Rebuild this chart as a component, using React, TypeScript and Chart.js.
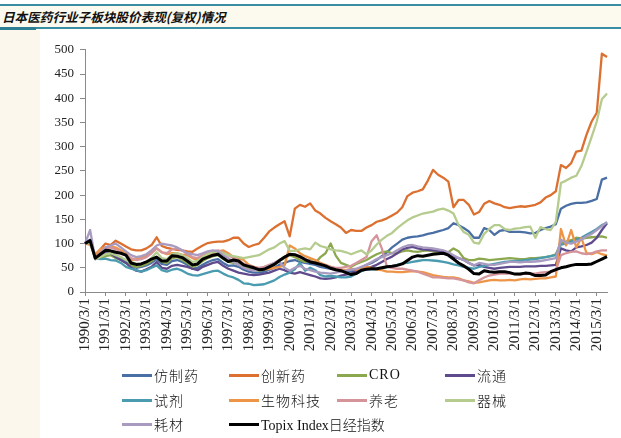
import React, { useEffect, useRef } from "react";
import { Chart, registerables } from "chart.js";
Chart.register(...registerables);

const years = [1990, 1991, 1992, 1993, 1994, 1995, 1996, 1997, 1998, 1999, 2000, 2001, 2002, 2003, 2004, 2005, 2006, 2007, 2008, 2009, 2010, 2011, 2012, 2013, 2014, 2015];
const months = [3, 6, 9, 12];
const categories: string[] = [];
years.forEach((y) => months.forEach((m) => { if (y < 2015 || m <= 9) categories.push(`${y}/${m}/1`); }));

const seriesNames = ["仿制药", "创新药", "CRO", "流通", "试剂", "生物科技", "养老", "器械", "耗材", "Topix Index日经指数"];
const seriesColors = ["#4A6FA5", "#DC7030", "#8BA84E", "#5E4A8C", "#4A9BB0", "#EE9447", "#D4949A", "#B5CC8E", "#A99BC0", "#000000"];

const fangzhiyao = [100,108,68,72,80,82,76,70,62,55,50,52,55,60,68,58,56,64,66,62,56,48,50,56,62,66,68,60,54,55,52,46,42,40,40,42,46,50,56,60,64,66,62,60,58,56,52,50,48,46,44,44,42,46,50,56,60,66,74,82,92,100,108,112,114,115,117,120,122,125,128,132,142,138,132,125,112,112,132,128,118,126,128,124,124,124,123,121,122,128,132,135,140,172,178,182,184,184,185,188,192,232,236];
const chuangxinyao = [100,98,76,88,100,97,106,100,94,88,86,86,90,97,113,95,91,89,87,86,84,83,90,96,101,103,104,104,107,112,112,100,93,97,100,112,125,133,140,146,115,172,180,176,183,168,162,153,146,140,133,122,128,126,126,133,138,145,148,152,158,164,175,198,205,208,212,230,252,242,236,228,175,190,190,180,160,165,182,188,183,180,175,173,175,177,176,178,180,185,195,200,208,262,256,266,290,292,325,352,370,492,485];
const cro = [100,103,70,70,74,76,70,66,60,56,52,54,58,64,72,62,60,70,72,66,60,52,56,64,70,74,76,68,62,60,58,52,48,46,44,46,52,56,64,70,76,72,66,62,66,60,72,80,100,75,60,56,52,58,62,66,72,78,82,84,80,80,84,86,84,83,85,86,84,82,80,82,90,84,70,66,66,69,68,66,67,68,69,70,69,68,68,70,70,71,72,74,78,102,104,107,112,110,112,113,114,115,112];
const liutong = [100,104,70,74,82,80,72,66,60,50,44,42,47,52,62,50,48,54,56,54,52,48,45,52,56,60,62,54,48,44,40,38,36,35,36,38,40,44,48,45,40,38,41,38,35,32,28,27,28,30,34,36,38,44,48,50,52,56,62,68,73,80,88,91,93,90,88,87,86,85,83,78,73,70,66,60,55,56,52,50,48,50,51,52,52,52,53,53,53,54,54,55,56,90,86,84,92,94,97,102,112,128,142];
const shiji = [100,104,72,68,69,66,65,60,52,48,45,42,45,50,55,45,42,46,48,44,38,35,34,37,40,43,44,38,33,30,25,18,17,14,15,16,20,24,31,36,40,47,60,44,50,45,35,32,33,32,30,30,32,38,43,47,47,46,48,52,53,56,59,60,62,64,66,66,65,64,62,60,57,55,52,50,48,52,54,56,58,60,62,63,64,64,66,67,68,70,72,74,76,98,100,104,108,112,118,124,130,138,143];
const shengwukeji = [100,100,78,88,92,93,92,86,82,66,68,72,74,82,90,82,78,80,80,77,76,70,66,72,76,80,84,86,80,72,70,66,56,52,46,46,48,50,52,55,96,90,80,74,70,66,60,56,52,48,46,45,48,46,48,52,50,46,45,42,42,41,41,42,43,42,41,38,35,33,31,30,30,28,24,22,19,20,22,24,25,24,24,25,24,26,27,26,27,28,28,30,32,130,96,128,92,112,80,78,82,78,75];
const yanglao = [100,104,72,82,90,92,88,82,76,70,66,68,72,80,90,82,80,88,90,86,78,72,70,76,80,84,86,82,76,70,66,58,55,52,50,52,56,60,66,72,78,76,72,68,64,60,58,55,52,50,50,52,54,60,66,72,105,117,90,52,50,48,48,46,44,42,38,34,30,30,29,28,28,26,24,20,18,24,30,34,36,38,38,38,37,36,38,38,38,40,41,42,44,76,80,83,84,80,78,80,84,86,86];
const qixie = [100,102,68,72,78,80,76,72,66,62,58,58,62,70,82,70,68,78,80,76,70,62,64,72,78,82,84,80,76,74,72,70,72,74,76,82,88,92,100,105,85,85,88,90,88,102,95,92,88,86,85,82,78,82,86,78,86,98,108,116,122,132,140,148,154,158,162,164,166,170,172,168,162,138,124,118,102,100,120,130,138,138,130,128,131,132,134,135,112,134,130,128,145,225,230,236,240,260,290,320,352,398,410];
const haocai = [100,128,68,80,92,96,100,92,84,76,72,74,78,86,96,100,98,96,92,86,80,78,76,80,84,86,84,76,70,62,56,50,46,44,46,48,54,60,62,50,44,50,54,48,45,42,40,39,38,40,42,44,46,48,52,56,62,68,72,76,80,86,92,96,97,94,92,91,90,88,86,82,76,70,66,60,55,60,58,56,56,58,60,62,62,61,62,62,63,64,66,68,70,108,102,100,104,108,115,120,128,136,145];
const topix = [100,106,70,78,86,85,82,80,76,60,57,58,62,68,72,64,64,75,74,71,64,56,58,68,72,76,78,70,63,66,64,56,53,50,46,47,52,57,65,72,78,77,73,67,62,60,57,54,49,46,44,40,36,38,45,47,48,48,50,52,53,55,58,65,72,75,74,76,78,79,80,76,68,60,54,47,38,37,44,42,41,42,42,40,37,37,39,38,34,34,35,42,46,50,52,55,57,57,57,58,63,68,73];

const seriesValues = [fangzhiyao, chuangxinyao, cro, liutong, shiji, shengwukeji, yanglao, qixie, haocai, topix];
const yTicks = { min: 0, max: 500, step: 50 };

const legendCols = [122, 229, 337, 445];
const legendRows = [375, 400, 424];

export default function App() {
  const canvasRef = useRef<HTMLCanvasElement | null>(null);

  useEffect(() => {
    const canvas = canvasRef.current;
    if (!canvas) return;
    const chart = new Chart(canvas, {
      type: "line",
      data: {
        labels: categories,
        datasets: seriesNames.map((name, k) => ({
          label: name,
          data: seriesValues[k],
          borderColor: seriesColors[k],
          backgroundColor: seriesColors[k],
          borderWidth: k === 9 ? 3 : 2.3,
          pointRadius: 0,
          tension: 0,
          fill: false,
          order: 10 - k,
          borderJoinStyle: "round" as const,
        })),
      },
      options: {
        animation: false,
        responsive: false,
        maintainAspectRatio: false,
        layout: { padding: { left: 45, top: 13, right: 14, bottom: 0 } },
        plugins: { legend: { display: false }, tooltip: { enabled: false }, title: { display: false } },
        scales: {
          x: {
            type: "category",
            offset: false,
            grid: { display: true, drawOnChartArea: false, drawTicks: true, tickLength: 4, color: "#8a8a8a" },
            border: { display: true, color: "#8a8a8a", width: 1 },
            ticks: {
              autoSkip: false,
              maxRotation: 90,
              minRotation: 90,
              padding: 2,
              color: "#222",
              font: { family: "'Liberation Serif', 'Times New Roman', serif", size: 15 },
              callback: (_v: any, idx: number) => (idx % 4 === 0 ? categories[idx] : null),
            },
            afterFit: (scale: any) => { scale.height = 74; },
          },
          y: {
            min: yTicks.min,
            max: yTicks.max,
            grid: { display: true, drawOnChartArea: false, drawTicks: true, tickLength: 5, color: "#8a8a8a" },
            border: { display: true, color: "#8a8a8a", width: 1 },
            ticks: {
              stepSize: yTicks.step,
              padding: 6,
              color: "#222",
              font: { family: "'Liberation Serif', 'Times New Roman', serif", size: 13 },
            },
            afterFit: (scale: any) => { scale.width = 40; },
          },
        },
      },
    } as any);
    return () => chart.destroy();
  }, []);

  return (
    <div style={{ position: "fixed", left: 0, top: 0, width: 621, height: 438, background: "#fff", overflow: "hidden" }}>
      <div style={{ position: "absolute", left: 0, top: 30, width: 40, height: 408, background: "#FBF7EC" }} />
      <div style={{ position: "absolute", left: 0, top: 4, width: 621, height: 2, background: "#3A8EA4" }} />
      <div style={{ position: "absolute", left: 0, top: 6, width: 621, height: 21, background: "#FCF9EE" }} />
      <div style={{ position: "absolute", left: 0, top: 27, width: 621, height: 2, background: "#3A8EA4" }} />
      <div style={{ position: "absolute", left: 0, top: 27, width: 36, height: 3, background: "#2F7F94" }} />
      <div style={{ position: "absolute", left: 2, top: 8, height: 18, lineHeight: "18px", fontFamily: "'Noto Sans CJK SC', sans-serif", fontStyle: "italic", fontWeight: 700, fontSize: 12.6, color: "#111", whiteSpace: "nowrap" }}>
        日本医药行业子板块股价表现(复权)情况
      </div>
      <canvas ref={canvasRef} width={621} height={330} style={{ position: "absolute", left: 0, top: 36, width: 621, height: 330 }} />
      {seriesNames.map((name, k) => {
        const col = k % 4;
        const row = Math.floor(k / 4);
        return (
          <div key={name} style={{ position: "absolute", left: legendCols[col], top: legendRows[row] - 10, height: 20, display: "flex", alignItems: "center", whiteSpace: "nowrap" }}>
            <div style={{ width: 30, height: 3, background: seriesColors[k], marginRight: 2 }} />
            <span style={{ fontFamily: "'Liberation Serif', 'Noto Sans CJK SC', serif", fontSize: 14, fontWeight: 300, color: "#111", letterSpacing: k === 9 ? 0 : 1 }}>{name}</span>
          </div>
        );
      })}
    </div>
  );
}
